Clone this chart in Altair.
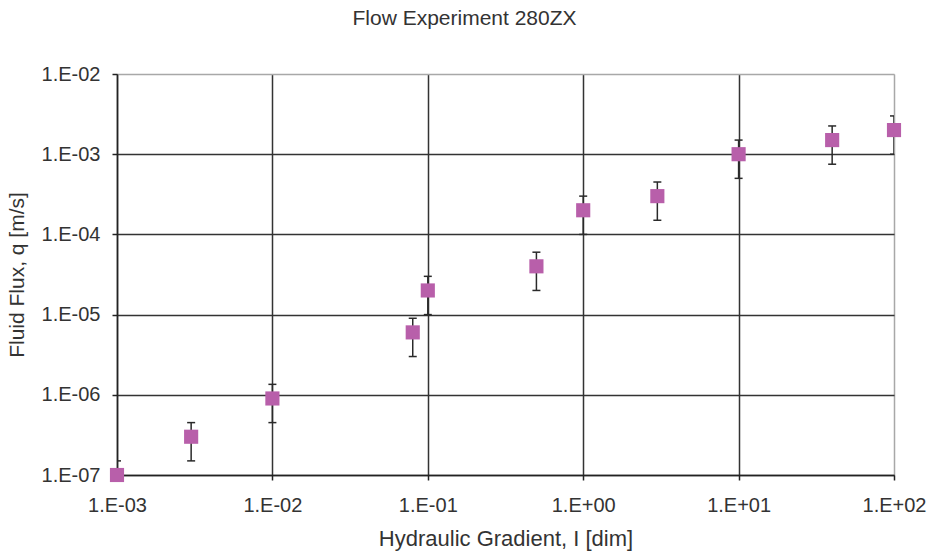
import altair as alt
import pandas as pd

# Data
gradient = [1e-3, 3e-3, 1e-2, 8e-2, 1e-1, 5e-1, 1e0, 3e0, 1e1, 4e1, 1e2]
flux = [1e-7, 3e-7, 9e-7, 6e-6, 2e-5, 4e-5, 2e-4, 3e-4, 1e-3, 1.5e-3, 2e-3]
flux_hi = [1.5e-7, 4.5e-7, 1.35e-6, 9e-6, 3e-5, 6e-5, 3e-4, 4.5e-4, 1.5e-3, 2.25e-3, 3e-3]
flux_lo = [5e-8, 1.5e-7, 4.5e-7, 3e-6, 1e-5, 2e-5, 1e-4, 1.5e-4, 5e-4, 7.5e-4, 1e-3]

x_ticks = [1e-3, 1e-2, 1e-1, 1e0, 1e1, 1e2]
y_ticks = [1e-7, 1e-6, 1e-5, 1e-4, 1e-3, 1e-2]

df = pd.DataFrame({"I": gradient, "q": flux, "q_hi": flux_hi, "q_lo": flux_lo})

FONT = "Liberation Sans"
TXT = "#333333"
GRID = "#333333"
BORDER = "#A8A8A8"

label_expr = ("'1.E' + (round(log(datum.value)/LN10) < 0 ? '-' : '+') + "
              "(abs(round(log(datum.value)/LN10)) < 10 ? '0' : '') + "
              "abs(round(log(datum.value)/LN10))")

x_axis = alt.Axis(
    values=x_ticks, labelExpr=label_expr, labelFlush=False, labelOverlap=False,
    labelFont=FONT, labelFontSize=20, labelColor=TXT, labelBaseline="middle",
    labelPadding=25, tickSize=5, tickColor="#222", tickWidth=1.5,
    domainColor="#222", domainWidth=1.5,
    grid=True, gridWidth=1.5,
    gridColor={"condition": {"test": "datum.value >= 99", "value": BORDER}, "value": GRID},
    title="Hydraulic Gradient, I [dim]", titleFont=FONT, titleFontSize=22,
    titleFontWeight="normal", titleColor=TXT, titleBaseline="middle",
    titleAlign="center", titleX=388.5, titleY=63,
)
y_axis = alt.Axis(
    values=y_ticks, labelExpr=label_expr, labelFlush=False, labelOverlap=False,
    labelFont=FONT, labelFontSize=20, labelColor=TXT, labelPadding=12,
    tickSize=5, tickColor="#222", tickWidth=1.5,
    domainColor="#222", domainWidth=1.5,
    grid=True, gridWidth=1.5,
    gridColor={"condition": {"test": "datum.value >= 0.0099", "value": BORDER}, "value": GRID},
    title="Fluid Flux, q [m/s]", titleFont=FONT, titleFontSize=21,
    titleFontWeight="normal", titleColor=TXT, titleBaseline="middle",
    titleAlign="center", titleAngle=-90, titleX=-100, titleY=200.5,
)

xs = alt.Scale(type="log", domain=[1e-3, 1e2], nice=False)
ys = alt.Scale(type="log", domain=[1e-7, 1e-2], nice=False)

xenc = alt.X("I:Q", scale=xs, axis=x_axis)

bars = alt.Chart(df).mark_rule(clip=True, color="#2a2a2a", strokeWidth=1.5).encode(
    x=xenc,
    y=alt.Y("q_lo:Q", scale=ys, axis=y_axis),
    y2="q_hi:Q",
)
cap_hi = alt.Chart(df).mark_tick(orient="horizontal", size=8, thickness=1.5,
                                 clip=True, color="#2a2a2a", opacity=1).encode(
    x=xenc, y=alt.Y("q_hi:Q", scale=ys, axis=y_axis),
)
cap_lo = alt.Chart(df).mark_tick(orient="horizontal", size=8, thickness=1.5,
                                 clip=True, color="#2a2a2a", opacity=1).encode(
    x=xenc, y=alt.Y("q_lo:Q", scale=ys, axis=y_axis),
)
points = alt.Chart(df).mark_point(shape="square", filled=True, size=200,
                                  color="#B85FAA", opacity=1).encode(
    x=xenc, y=alt.Y("q:Q", scale=ys, axis=y_axis),
)

chart = alt.layer(bars, cap_hi, cap_lo, points).properties(
    width=777, height=401,
    title=alt.TitleParams("Flow Experiment 280ZX", font=FONT, fontSize=21,
                          fontWeight="normal", color=TXT, anchor="middle",
                          baseline="bottom", dx=-41, offset=14),
    autosize=alt.AutoSizeParams(type="none"),
    padding={"left": 117, "top": 74, "right": 35, "bottom": 79},
).configure_view(stroke=BORDER, strokeWidth=1.5).configure(background="white")

chart.save("out.html", embed_options={"renderer": "svg", "actions": False})
